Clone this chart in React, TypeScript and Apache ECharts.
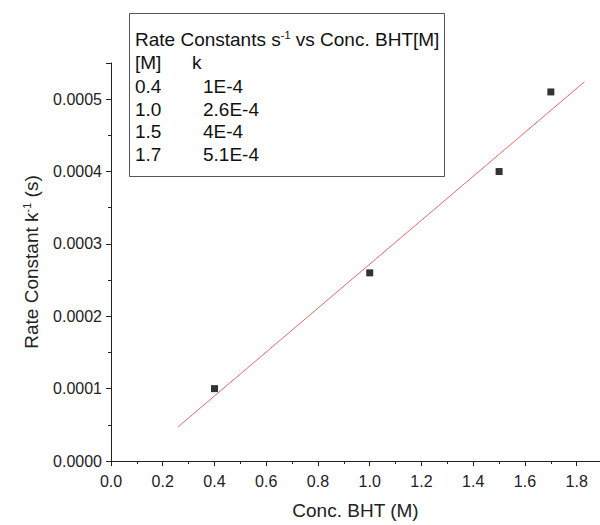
import React, { useEffect, useRef } from "react";
import * as echarts from "echarts";

const concentrations = [0.4, 1.0, 1.5, 1.7];
const rateConstants = [0.0001, 0.00026, 0.0004, 0.00051];
const fitLine = [
  [0.26, 0.0000474],
  [1.83, 0.000524],
];
const tableM = ["0.4", "1.0", "1.5", "1.7"];
const tableK = ["1E-4", "2.6E-4", "4E-4", "5.1E-4"];

const FONT = "'Liberation Sans', Arial, sans-serif";

export default function App() {
  const ref = useRef<HTMLDivElement>(null);
  useEffect(() => {
    document.body.style.margin = "0";
    const chart = echarts.init(ref.current!, null, { renderer: "svg" });
    const rowTexts: any[] = [];
    tableM.forEach((m, i) => {
      rowTexts.push({
        type: "text",
        left: 135,
        top: 77 + i * 22.7,
        z: 11,
        style: { text: m, font: `19px ${FONT}`, fill: "#111" },
      });
      rowTexts.push({
        type: "text",
        left: 203,
        top: 77 + i * 22.7,
        z: 11,
        style: { text: tableK[i], font: `19px ${FONT}`, fill: "#111" },
      });
    });
    chart.setOption({
      animation: false,
      backgroundColor: "#fff",
      textStyle: { fontFamily: FONT },
      grid: { left: 111, right: 0, top: 63, bottom: 61, containLabel: false },
      xAxis: {
        type: "value",
        min: 0,
        max: 1.89,
        interval: 0.2,
        name: "Conc. BHT (M)",
        nameLocation: "middle",
        nameGap: 40,
        nameTextStyle: { fontSize: 19, color: "#222", fontFamily: FONT },
        axisLine: { show: true, lineStyle: { color: "#222", width: 1 } },
        axisTick: { show: true, inside: false, length: 5, lineStyle: { color: "#222" } },
        minorTick: { show: true, splitNumber: 2, length: 3, lineStyle: { color: "#222" } },
        splitLine: { show: false },
        axisLabel: {
          fontSize: 16,
          color: "#222",
          margin: 12,
          showMaxLabel: false,
          formatter: (v: number) => v.toFixed(1),
        },
      },
      yAxis: {
        type: "value",
        min: 0,
        max: 0.00055,
        interval: 0.0001,
        name: "Rate Constant k{sup|-1} (s)",
        nameLocation: "middle",
        nameGap: 70,
        nameTextStyle: {
          fontSize: 19,
          color: "#222",
          fontFamily: FONT,
          rich: {
            sup: { fontSize: 11, color: "#222", verticalAlign: "top", padding: [0, 0, 9, 0], fontFamily: FONT },
          },
        },
        axisLine: { show: true, lineStyle: { color: "#222", width: 1 } },
        axisTick: { show: true, inside: false, length: 5, lineStyle: { color: "#222" } },
        minorTick: { show: true, splitNumber: 2, length: 3, lineStyle: { color: "#222" } },
        splitLine: { show: false },
        axisLabel: {
          fontSize: 16,
          color: "#222",
          margin: 9,
          showMaxLabel: false,
          formatter: (v: number) => v.toFixed(4),
        },
      },
      series: [
        {
          type: "line",
          data: fitLine,
          symbol: "none",
          lineStyle: { color: "#e06a6a", width: 1 },
          silent: true,
          z: 1,
        },
        {
          type: "scatter",
          data: concentrations.map((c, i) => [c, rateConstants[i]]),
          symbol: "rect",
          symbolSize: 7,
          itemStyle: { color: "#000" },
          z: 2,
        },
      ],
      graphic: [
        {
          type: "rect",
          left: 129,
          top: 13,
          shape: { width: 315, height: 163 },
          style: { fill: "#fff", stroke: "#555", lineWidth: 1 },
          z: 10,
        },
        {
          type: "text",
          left: 135,
          top: 29,
          z: 11,
          style: {
            text: "Rate Constants s{sup|-1} vs Conc. BHT[M]",
            font: `19px ${FONT}`,
            fill: "#111",
            rich: {
              sup: { fontSize: 11, fill: "#111", verticalAlign: "top", padding: [0, 0, 9, 0], fontFamily: FONT },
            },
          },
        },
        {
          type: "text",
          left: 135,
          top: 53,
          z: 11,
          style: { text: "[M]", font: `19px ${FONT}`, fill: "#111" },
        },
        {
          type: "text",
          left: 192,
          top: 53,
          z: 11,
          style: { text: "k", font: `19px ${FONT}`, fill: "#111" },
        },
        ...rowTexts,
      ],
    });
    return () => chart.dispose();
  }, []);
  return <div ref={ref} style={{ width: 600, height: 525 }} />;
}
